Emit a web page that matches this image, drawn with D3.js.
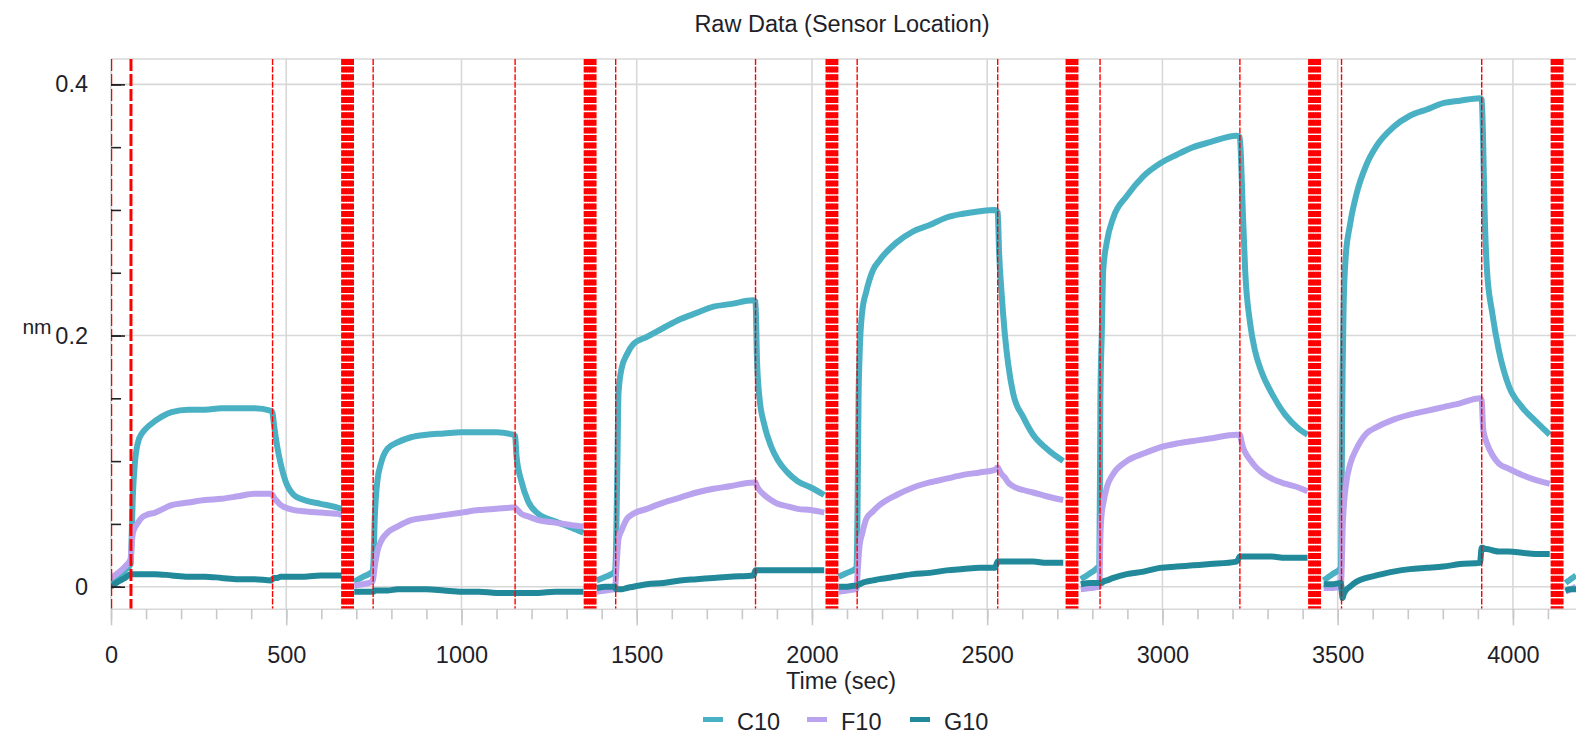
<!DOCTYPE html>
<html><head><meta charset="utf-8">
<script src="https://cdn.jsdelivr.net/npm/d3@7"></script>
<style>
body{margin:0;background:#fff;}
svg{display:block;font-family:"Liberation Sans",Arial,sans-serif;}
</style>
</head><body>
<svg id="chart" width="1576" height="735"></svg>
<script>
// ---------- DATA ----------
const chartTitle = "Raw Data (Sensor Location)";
const xTitle = "Time (sec)";
const yTitle = "nm";
const seriesNames = ["C10", "F10", "G10"];
const seriesColors = ["#49b1c3", "#b9a3ee", "#22899a"];

// time (sec); null values break the trace during regeneration
const times = [
  0,20,40,56,
  58,62,68,77,88,100,126,173,220,268,315,363,410,457,
  461,465,474,484,498,522,551,598,646,658,
  676,
  694,720,746,
  749,752,760,770,789,818,856,900,950,1000,1050,1100,1147,
  1153,1157,1171,1190,1219,1267,1314,1348,
  1368,
  1386,1412,1438,
  1441,1445,1448,1457,1472,1490,1529,1576,1624,1671,1719,1766,1833,
  1839,1843,1850,1864,1883,1902,1930,1959,1997,2035,
  2058,
  2076,2100,2127,
  2130,2133,2136,2143,2155,2174,2193,2241,2289,2336,2384,2431,2479,2522,
  2530,2534,2540,2550,2560,2574,2603,2631,2669,2717,
  2745,
  2767,2795,2820,
  2823,2827,2831,2841,2860,2898,2946,2993,3041,3088,3136,3212,
  3221,3226,3230,3236,3250,3264,3283,3312,3350,3388,3414,
  3438,
  3460,3485,3509,
  3512,3514,3517,3523,3535,3554,3582,3611,3659,3706,3754,3801,3849,3906,
  3911,3915,3919,3926,3941,3960,3988,4026,4064,4105,
  4130,
  4150,4165,4180
];
const c10 = [
  0.003,0.008,0.013,0.018,
  0.030,0.070,0.098,0.115,0.122,0.126,0.132,0.139,0.141,0.141,0.142,0.142,0.142,0.140,
  0.138,0.129,0.112,0.098,0.084,0.073,0.069,0.066,0.063,0.062,
  null,
  0.004,0.008,0.012,
  0.020,0.050,0.084,0.098,0.110,0.115,0.119,0.121,0.122,0.123,0.123,0.123,0.121,
  0.120,0.104,0.084,0.068,0.058,0.052,0.047,0.043,
  null,
  0.005,0.008,0.012,
  0.030,0.100,0.154,0.174,0.185,0.193,0.199,0.206,0.213,0.218,0.223,0.225,0.228,
  0.227,0.182,0.151,0.129,0.112,0.101,0.091,0.084,0.079,0.073,
  null,
  0.008,0.011,0.015,
  0.060,0.151,0.185,0.218,0.235,0.252,0.260,0.274,0.283,0.288,0.294,0.297,0.299,0.300,
  0.298,0.266,0.238,0.202,0.177,0.154,0.135,0.121,0.110,0.100,
  null,
  0.006,0.011,0.017,
  0.150,0.202,0.252,0.274,0.294,0.311,0.327,0.337,0.344,0.350,0.354,0.359,
  0.358,0.327,0.294,0.252,0.210,0.188,0.171,0.154,0.137,0.126,0.121,
  null,
  0.005,0.010,0.015,
  0.100,0.170,0.224,0.263,0.288,0.313,0.336,0.351,0.366,0.375,0.380,0.385,0.387,0.389,
  0.388,0.355,0.302,0.252,0.218,0.188,0.160,0.143,0.132,0.121,
  null,
  0.003,0.006,0.009
];
const f10 = [
  0.007,0.011,0.016,0.022,
  0.030,0.042,0.047,0.051,0.055,0.057,0.059,0.065,0.067,0.069,0.070,0.072,0.074,0.074,
  0.073,0.071,0.068,0.065,0.063,0.061,0.060,0.059,0.058,0.057,
  null,
  0.001,0.002,0.004,
  0.008,0.015,0.028,0.036,0.043,0.048,0.053,0.055,0.057,0.059,0.061,0.062,0.063,
  0.063,0.062,0.058,0.056,0.053,0.051,0.049,0.048,
  null,
  -0.004,-0.003,-0.002,
  0.010,0.028,0.038,0.045,0.054,0.058,0.062,0.067,0.071,0.075,0.078,0.080,0.083,
  0.083,0.080,0.077,0.073,0.069,0.066,0.064,0.062,0.061,0.059,
  null,
  -0.004,-0.003,-0.002,
  0.010,0.023,0.033,0.042,0.054,0.060,0.065,0.073,0.079,0.083,0.086,0.089,0.091,0.093,
  0.095,0.093,0.090,0.087,0.083,0.080,0.077,0.075,0.072,0.069,
  null,
  -0.002,-0.001,0.000,
  0.040,0.059,0.066,0.079,0.090,0.100,0.106,0.111,0.114,0.116,0.118,0.121,
  0.121,0.115,0.111,0.107,0.101,0.096,0.091,0.086,0.082,0.079,0.076,
  null,
  -0.001,-0.001,0.000,
  0.020,0.045,0.062,0.080,0.097,0.110,0.122,0.127,0.133,0.137,0.140,0.143,0.146,0.150,
  0.148,0.126,0.120,0.114,0.105,0.098,0.094,0.089,0.085,0.082,
  null,
  -0.004,-0.002,0.000
];
const g10 = [
  0.000,0.004,0.007,0.010,
  0.010,0.010,0.010,0.010,0.010,0.010,0.010,0.009,0.008,0.008,0.007,0.006,0.006,0.005,
  0.006,0.007,0.007,0.008,0.008,0.008,0.008,0.009,0.009,0.009,
  null,
  -0.004,-0.004,-0.004,
  -0.004,-0.003,-0.003,-0.003,-0.003,-0.002,-0.002,-0.002,-0.003,-0.004,-0.004,-0.005,-0.005,
  -0.005,-0.005,-0.005,-0.005,-0.005,-0.004,-0.004,-0.004,
  null,
  -0.001,0.000,0.000,
  -0.002,-0.002,-0.002,-0.002,-0.001,0.000,0.002,0.003,0.005,0.006,0.007,0.008,0.009,
  0.013,0.013,0.013,0.013,0.013,0.013,0.013,0.013,0.013,0.013,
  null,
  0.000,0.000,0.001,
  0.001,0.002,0.002,0.003,0.004,0.005,0.006,0.008,0.010,0.011,0.013,0.014,0.015,0.015,
  0.020,0.020,0.020,0.020,0.020,0.020,0.020,0.020,0.019,0.019,
  null,
  0.002,0.003,0.003,
  0.003,0.003,0.004,0.005,0.007,0.010,0.012,0.015,0.016,0.017,0.018,0.020,
  0.024,0.024,0.024,0.024,0.024,0.024,0.024,0.024,0.023,0.023,0.023,
  null,
  0.002,0.002,0.003,
  -0.005,-0.009,-0.006,-0.003,0.000,0.004,0.007,0.009,0.012,0.014,0.015,0.016,0.018,0.019,
  0.031,0.031,0.030,0.030,0.029,0.028,0.028,0.027,0.026,0.026,
  null,
  -0.003,-0.002,-0.002
];
const seriesValues = [c10, f10, g10];

// step boundaries (sec)
const startLines = [0, 57];
const stepTimes = [461, 748, 1153, 1440, 1839, 2129, 2530, 2822, 3221, 3511, 3911];
const regenStarts = [660, 1352, 2042, 2727, 3419, 4111];
const regenOffsets = [0, 5, 10, 15, 20, 25, 30];

const xMajorTicks = [0, 500, 1000, 1500, 2000, 2500, 3000, 3500, 4000];
const xMinorTicks = d3.range(0, 4101, 100);
const yMajorTicks = [0, 0.2, 0.4];
const yMinorTicks = [0, 0.05, 0.1, 0.15, 0.2, 0.25, 0.3, 0.35, 0.4];
const yTickLabels = ["0", "0.2", "0.4"];

// ---------- CHART ----------
const svg = d3.select("#chart");
const L = 111, R = 1576, T = 59, B = 609.3;
const x = d3.scaleLinear().domain([0, 4180]).range([L, R]);
const y = d3.scaleLinear().domain([-0.018, 0.4202]).range([B, T]);
const gridColor = "#d8d8d8";
const textColor = "#1f1f2a";

svg.append("defs").append("clipPath").attr("id", "plotclip")
  .append("rect").attr("x", L).attr("y", T).attr("width", R - L).attr("height", B - T);

// grid
const grid = svg.append("g");
grid.selectAll("line.v").data(xMajorTicks).join("line")
  .attr("x1", d => x(d)).attr("x2", d => x(d)).attr("y1", T).attr("y2", B)
  .attr("stroke", gridColor).attr("stroke-width", 1.6);
grid.selectAll("line.h").data(yMajorTicks).join("line")
  .attr("x1", L).attr("x2", R).attr("y1", d => y(d)).attr("y2", d => y(d))
  .attr("stroke", gridColor).attr("stroke-width", 1.6);
grid.append("line").attr("x1", L).attr("x2", R).attr("y1", T).attr("y2", T)
  .attr("stroke", gridColor).attr("stroke-width", 1.6);

// data
const plot = svg.append("g").attr("clip-path", "url(#plotclip)");
seriesValues.forEach((vals, i) => {
  const pts = times.map((t, k) => [t, vals[k]]);
  const line = d3.line().defined(d => d[1] !== null)
    .curve(d3.curveMonotoneX)
    .x(d => x(d[0])).y(d => y(d[1]));
  plot.append("path").datum(pts)
    .attr("fill", "none").attr("stroke", seriesColors[i])
    .attr("stroke-width", 6).attr("stroke-linejoin", "round")
    .attr("d", line);
});

// step lines
const red = "#ff0000";
const steps = svg.append("g").attr("clip-path", "url(#plotclip)");
steps.append("line").datum(startLines[0])
  .attr("x1", d => x(d) + 0.5).attr("x2", d => x(d) + 0.5).attr("y1", T).attr("y2", B)
  .attr("stroke", red).attr("stroke-width", 1.5).attr("stroke-dasharray", "12,3");
steps.append("line").datum(startLines[1])
  .attr("x1", d => x(d)).attr("x2", d => x(d)).attr("y1", T).attr("y2", B)
  .attr("stroke", red).attr("stroke-width", 3).attr("stroke-dasharray", "12,3");
steps.selectAll("line.step").data(stepTimes).join("line")
  .attr("x1", d => x(d)).attr("x2", d => x(d)).attr("y1", T).attr("y2", B)
  .attr("stroke", red).attr("stroke-width", 1.4).attr("stroke-dasharray", "6,1.6");
const regenLines = regenStarts.flatMap(s => regenOffsets.map(o => s + o));
steps.selectAll("line.regen").data(regenLines).join("line")
  .attr("x1", d => x(d)).attr("x2", d => x(d)).attr("y1", T).attr("y2", B)
  .attr("stroke", red).attr("stroke-width", 2.4).attr("stroke-dasharray", "6,1.6");

// x axis line
svg.append("line").attr("x1", L).attr("x2", R).attr("y1", B).attr("y2", B)
  .attr("stroke", gridColor).attr("stroke-width", 1.6);

// x ticks
const xMinor = svg.append("g").attr("transform", `translate(0,${B})`)
  .call(d3.axisBottom(x).tickValues(xMinorTicks).tickSize(10).tickFormat(""));
const xMajor = svg.append("g").attr("transform", `translate(0,${B})`)
  .call(d3.axisBottom(x).tickValues(xMajorTicks).tickSize(16).tickPadding(21).tickFormat(d3.format("d")));
[xMinor, xMajor].forEach(g => {
  g.select(".domain").remove();
  g.selectAll(".tick line").attr("stroke", "#c8c8c8").attr("stroke-width", 1.6);
});
xMajor.selectAll(".tick text").attr("font-size", 23.5).attr("fill", textColor)
  .attr("font-family", "Liberation Sans, Arial, sans-serif");

// y ticks (inside)
const yMinor = svg.append("g").attr("transform", `translate(${L},0)`)
  .call(d3.axisRight(y).tickValues(yMinorTicks).tickSize(10).tickFormat(""));
const yMajor = svg.append("g").attr("transform", `translate(${L},0)`)
  .call(d3.axisRight(y).tickValues(yMajorTicks).tickSize(14).tickFormat(""));
[yMinor, yMajor].forEach(g => {
  g.select(".domain").remove();
  g.selectAll(".tick line").attr("stroke", "#222").attr("stroke-width", 1.6);
});
const yLab = svg.append("g").attr("transform", `translate(${L},0)`)
  .call(d3.axisLeft(y).tickValues(yMajorTicks).tickSize(0).tickPadding(23)
    .tickFormat((d, i) => yTickLabels[i]));
yLab.select(".domain").remove();
yLab.selectAll(".tick text").attr("font-size", 23.5).attr("fill", textColor)
  .attr("font-family", "Liberation Sans, Arial, sans-serif");

// titles
svg.append("text").attr("x", 842).attr("y", 32).attr("text-anchor", "middle")
  .attr("font-size", 23.5).attr("fill", textColor).text(chartTitle);
svg.append("text").attr("x", 841).attr("y", 689).attr("text-anchor", "middle")
  .attr("font-size", 23.5).attr("fill", textColor).text(xTitle);
svg.append("text").attr("x", 37).attr("y", 334).attr("text-anchor", "middle")
  .attr("font-size", 21).attr("fill", textColor).text(yTitle);

// legend
const legendX = [703, 807, 910];
const lg = svg.append("g");
seriesNames.forEach((n, i) => {
  lg.append("rect").attr("x", legendX[i]).attr("y", 717).attr("width", 20).attr("height", 5)
    .attr("fill", seriesColors[i]);
  lg.append("text").attr("x", legendX[i] + 34).attr("y", 730)
    .attr("font-size", 23.5).attr("fill", textColor).text(n);
});
</script>
</body></html>
